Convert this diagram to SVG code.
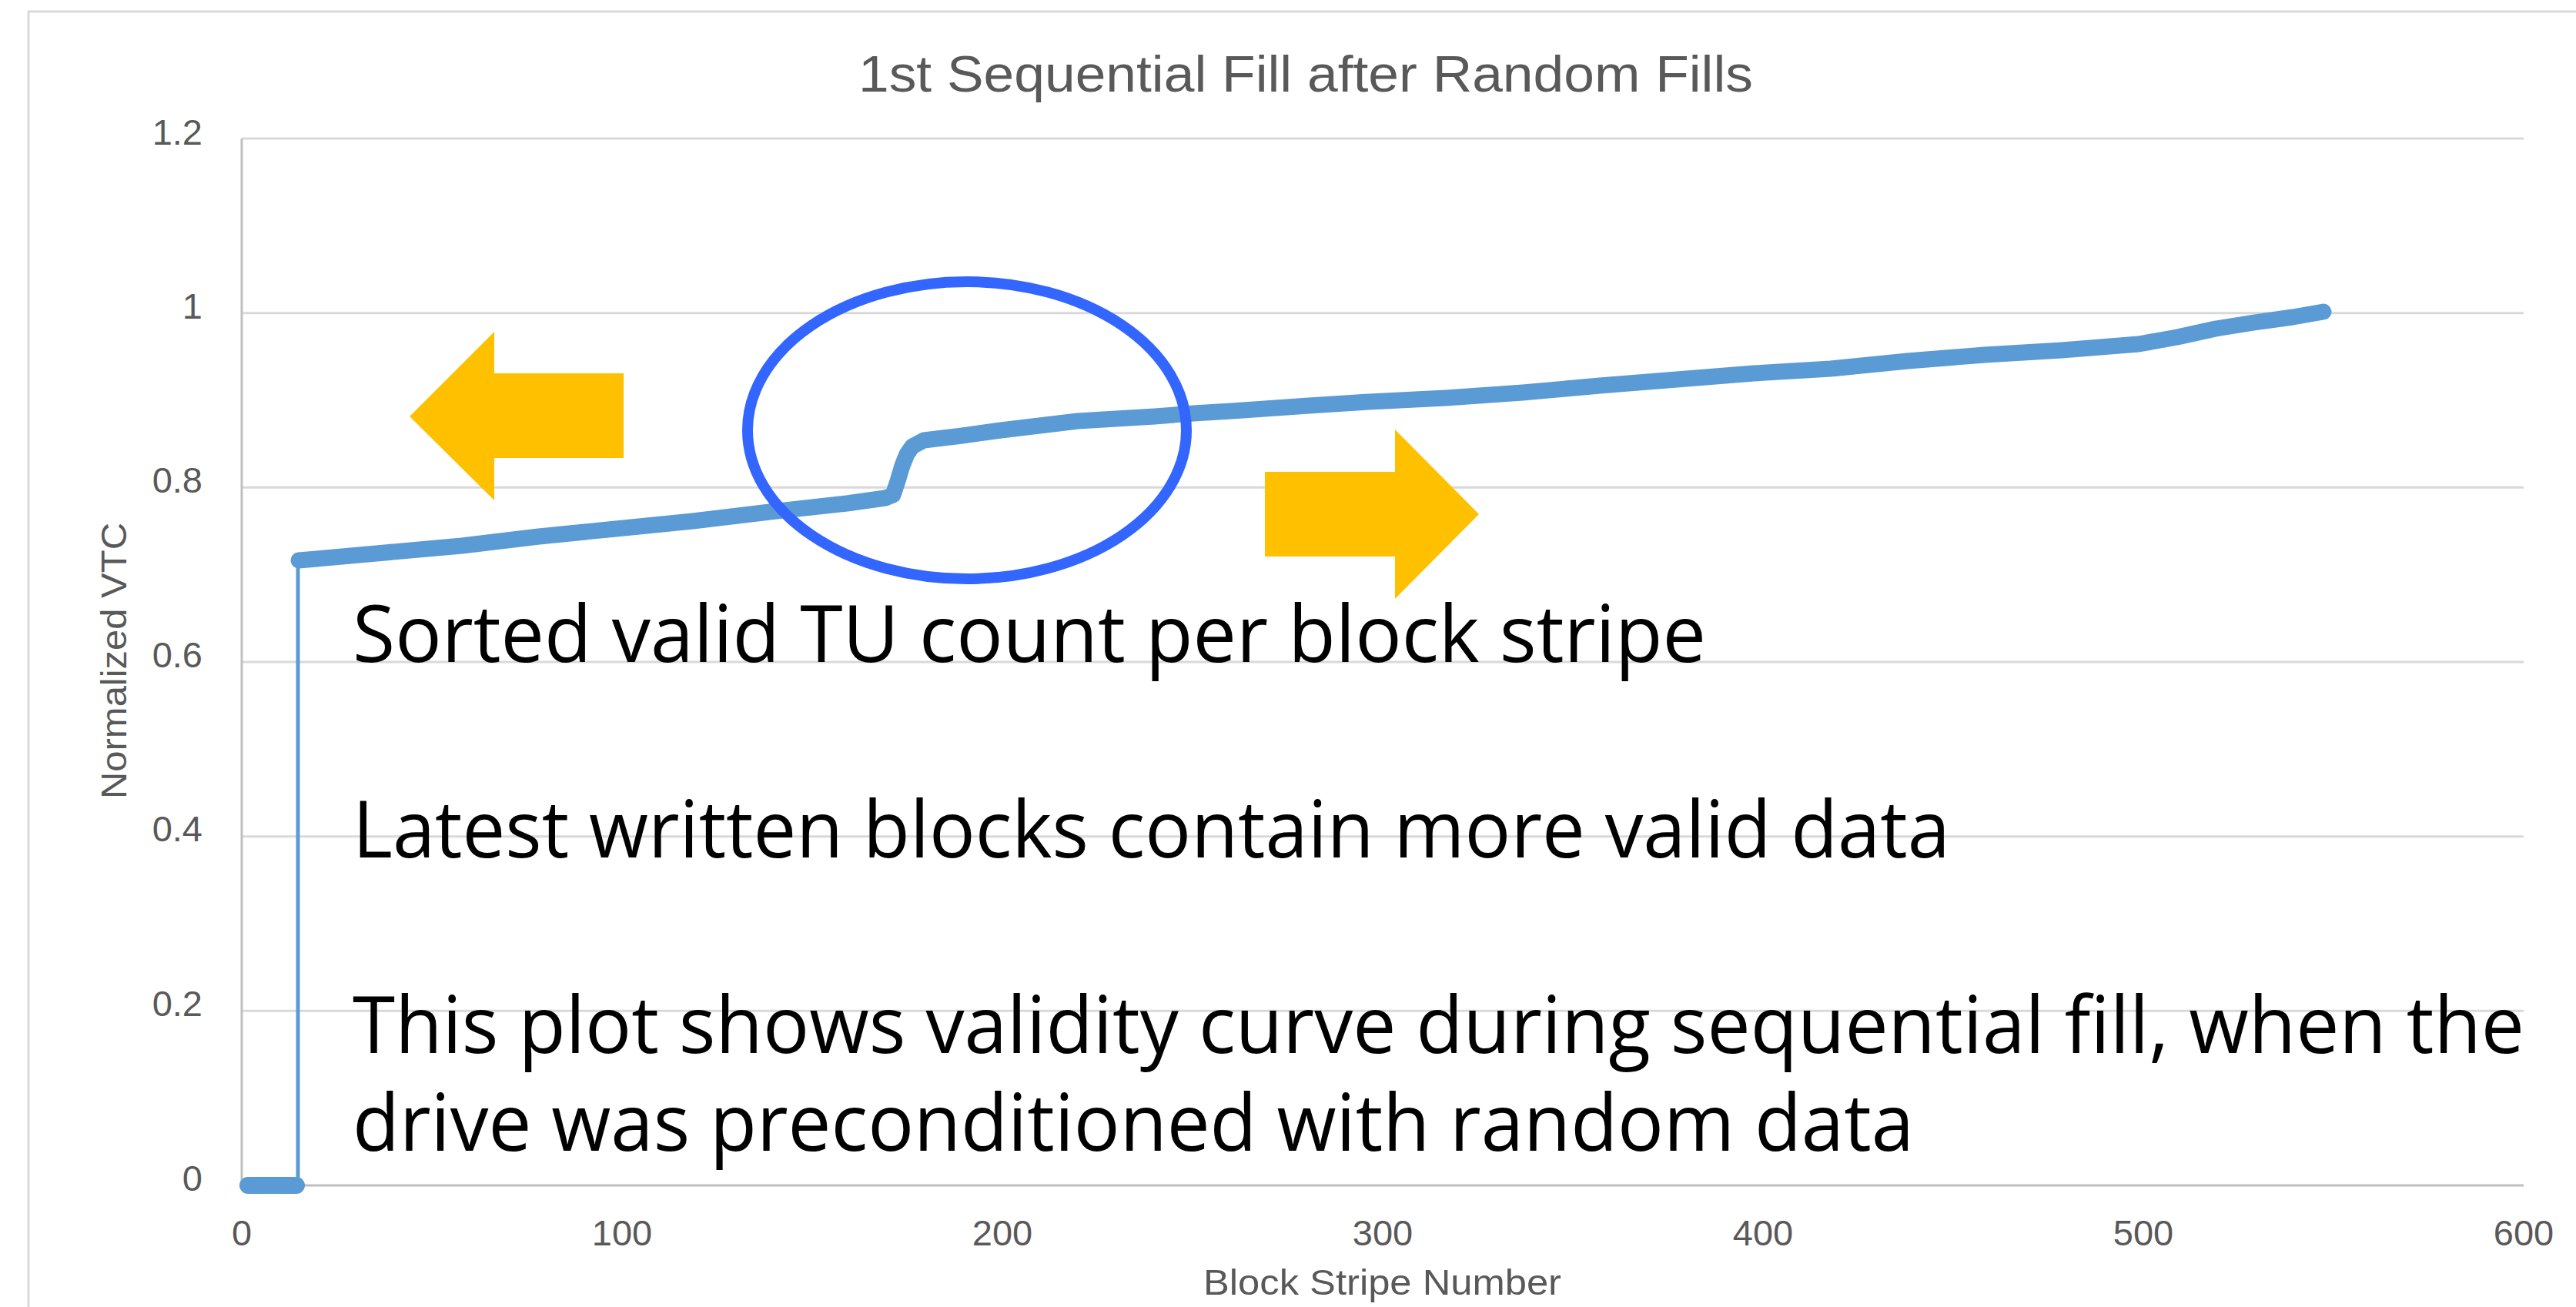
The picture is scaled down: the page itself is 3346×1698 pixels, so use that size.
<svg xmlns="http://www.w3.org/2000/svg" width="3346" height="1698" viewBox="0 0 3346 1698">
<style>
.grid{stroke:#D9D9D9;stroke-width:3;fill:none}
.axis{stroke:#BFBFBF;stroke-width:3;fill:none}
.tick{font-family:"Liberation Sans",Arial,sans-serif;font-size:47px;fill:#595959}
.ttl{font-family:"Liberation Sans",Arial,sans-serif;fill:#595959}
.note{font-family:"Open Sans","Noto Sans",sans-serif;font-size:103px;fill:#000000}
.series{stroke:#5B9BD5;fill:none;stroke-linecap:round;stroke-linejoin:round}
.arrow{fill:#FFC000}
</style>
<rect x="0" y="0" width="3346" height="1698" fill="#FFFFFF"/>
<rect id="chart-frame" x="37" y="15" width="3400" height="1800" fill="none" stroke="#D9D9D9" stroke-width="3"/>
<text id="title" class="ttl" x="1115" y="119" font-size="66" textLength="1162" lengthAdjust="spacingAndGlyphs">1st Sequential Fill after Random Fills</text>
<g id="gridlines">
<line class="grid" x1="314" y1="180" x2="3278" y2="180"/>
<line class="grid" x1="314" y1="406.7" x2="3278" y2="406.7"/>
<line class="grid" x1="314" y1="633.3" x2="3278" y2="633.3"/>
<line class="grid" x1="314" y1="860" x2="3278" y2="860"/>
<line class="grid" x1="314" y1="1086.7" x2="3278" y2="1086.7"/>
<line class="grid" x1="314" y1="1313.3" x2="3278" y2="1313.3"/>
<line class="axis" x1="314" y1="180" x2="314" y2="1540"/>
<line class="axis" x1="314" y1="1540" x2="3278" y2="1540"/>
</g>
<g id="y-labels" class="tick" text-anchor="end">
<text x="263" y="188">1.2</text>
<text x="263" y="414">1</text>
<text x="263" y="640">0.8</text>
<text x="263" y="867">0.6</text>
<text x="263" y="1093">0.4</text>
<text x="263" y="1320">0.2</text>
<text x="263" y="1547">0</text>
</g>
<g id="x-labels" class="tick" text-anchor="middle">
<text x="314" y="1618">0</text>
<text x="808" y="1618">100</text>
<text x="1302" y="1618">200</text>
<text x="1796" y="1618">300</text>
<text x="2290" y="1618">400</text>
<text x="2784" y="1618">500</text>
<text x="3278" y="1618">600</text>
</g>
<text id="y-title" class="ttl" font-size="47" transform="translate(164,1038) rotate(-90)" textLength="359" lengthAdjust="spacingAndGlyphs">Normalized VTC</text>
<text id="x-title" class="ttl" font-size="47" x="1563" y="1682" textLength="465" lengthAdjust="spacingAndGlyphs">Block Stripe Number</text>
<g id="series">
<line class="series" x1="322" y1="1540" x2="385" y2="1540" stroke-width="22"/>
<line class="series" x1="387" y1="1540" x2="387" y2="728" stroke-width="5"/>
<path class="series" stroke-width="21" d="M388,728 L400,727 L500,718 L600,709 L700,697 L800,687 L900,677 L1000,665 L1100,654 L1150,647 L1160,643 L1166,625 L1172,605 L1178,590 L1185,580 L1200,572 L1250,566 L1300,559 L1350,553 L1400,547 L1450,544 L1500,541 L1550,537 L1600,534 L1700,527 L1778,522 L1878,517 L1978,510 L2078,501 L2178,493 L2278,485 L2378,479 L2478,469 L2578,461 L2678,455 L2778,447 L2828,438 L2878,427 L2928,419 L2978,412 L3018,405"/>
</g>
<g id="highlight-ellipse">
<ellipse cx="1256" cy="559" rx="285" ry="193" fill="none" stroke="#3366FF" stroke-width="14"/>
</g>
<g id="arrow-left">
<polygon class="arrow" points="532,541 642,431 642,485 810,485 810,595 642,595 642,650"/>
</g>
<g id="arrow-right">
<polygon class="arrow" points="1643,613 1812,613 1812,558 1921,668 1812,778 1812,723 1643,723"/>
</g>
<g id="notes" class="note">
<text x="458" y="860" textLength="1758" lengthAdjust="spacingAndGlyphs">Sorted valid TU count per block stripe</text>
<text x="458" y="1114" textLength="2075" lengthAdjust="spacingAndGlyphs">Latest written blocks contain more valid data</text>
<text x="458" y="1368" textLength="2821" lengthAdjust="spacingAndGlyphs">This plot shows validity curve during sequential fill, when the</text>
<text x="458" y="1495" textLength="2028" lengthAdjust="spacingAndGlyphs">drive was preconditioned with random data</text>
</g>
</svg>
